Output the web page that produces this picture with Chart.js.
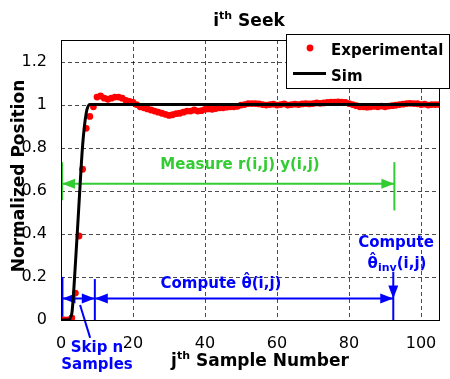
<!DOCTYPE html>
<html>
<head>
<meta charset="utf-8">
<script src="https://cdn.jsdelivr.net/npm/chart.js@4"></script>
<style>
html, body { margin: 0; padding: 0; background: #fff; }
canvas { display: block; }
</style>
</head>
<body>
<canvas id="chart" width="450" height="379"></canvas>
<script>
// values
// experimental position, one value per sample j = 0..105
const expY = [
    0, 0, 0, 0.01, 0.125, 0.39, 0.70, 0.89, 0.945, 0.99,
    1.035, 1.04, 1.03, 1.025, 1.03, 1.035, 1.035, 1.03, 1.02, 1.015,
    1.01, 1.0, 0.99, 0.985, 0.98, 0.975, 0.97, 0.965, 0.96, 0.955,
    0.95, 0.953, 0.958, 0.96, 0.965, 0.97, 0.97, 0.975, 0.97, 0.972,
    0.978, 0.98, 0.978, 0.982, 0.985, 0.985, 0.988, 0.99, 0.99, 0.992,
    0.998, 1.0, 1.005, 1.005, 1.005, 1.003, 1.0, 0.998, 1.0, 1.002,
    0.998, 1.0, 1.003, 0.998, 1.0, 1.002, 1.0, 1.003, 1.005, 1.003,
    1.005, 1.008, 1.006, 1.008, 1.01, 1.012, 1.012, 1.013, 1.012, 1.01,
    1.005, 1.0, 0.995, 0.99, 0.99, 0.988, 0.99, 0.992, 0.99, 0.993,
    0.99, 0.993, 0.995, 0.997, 1.0, 1.002, 1.005, 1.006, 1.005, 1.004,
    1.0, 1.002, 0.998, 1.0, 1.0, 1.0
];
// simulated response
const simX = [0, 1, 2, 3, 4, 5, 6, 7, 8, 9, 105];
const simY = [0, 0, 0, 0.03, 0.26, 0.54, 0.81, 0.96, 1, 1, 1];

const xTicks = [0, 20, 40, 60, 80, 100];
const xTickLabels = ['0', '20', '40', '60', '80', '100'];
const yTicks = [0, 0.2, 0.4, 0.6, 0.8, 1, 1.2];
const yTickLabels = ['0', '0.2', '0.4', '0.6', '0.8', '1', '1.2'];

const FONT = '"DejaVu Sans", sans-serif';
const BLUE = '#0000ff';
const GREEN = '#33cc33';

// draw text made of parts (normal / super / subscript), centred on cx
function drawParts(ctx, parts, cx, y, color) {
    ctx.save();
    ctx.fillStyle = color;
    ctx.textBaseline = 'alphabetic';
    ctx.textAlign = 'left';
    let total = 0;
    parts.forEach(p => {
        ctx.font = 'bold ' + p.size + 'px ' + FONT;
        p.w = ctx.measureText(p.t).width;
        total += p.w;
    });
    let x = cx - total / 2;
    parts.forEach(p => {
        ctx.font = 'bold ' + p.size + 'px ' + FONT;
        ctx.fillText(p.t, x, y + (p.dy || 0));
        x += p.w;
    });
    ctx.restore();
}

function head(ctx, tx, ty, dx, dy, len, half) {
    ctx.beginPath();
    ctx.moveTo(tx, ty);
    ctx.lineTo(tx - dx * len - dy * half, ty - dy * len + dx * half);
    ctx.lineTo(tx - dx * len + dy * half, ty - dy * len - dx * half);
    ctx.closePath();
    ctx.fill();
}

const annotate = {
    id: 'annotate',
    beforeDatasetsDraw(chart) {
        const {ctx, chartArea: a, scales: {x, y}} = chart;
        ctx.save();
        // dashed grid
        ctx.strokeStyle = 'rgba(0,0,0,0.7)';
        ctx.lineWidth = 1;
        ctx.setLineDash([4, 3]);
        xTicks.slice(1).forEach(v => {
            const px = Math.round(x.getPixelForValue(v)) + 0.5;
            ctx.beginPath(); ctx.moveTo(px, a.top); ctx.lineTo(px, a.bottom); ctx.stroke();
        });
        yTicks.slice(1).forEach(v => {
            const py = Math.round(y.getPixelForValue(v)) + 0.5;
            ctx.beginPath(); ctx.moveTo(a.left, py); ctx.lineTo(a.right, py); ctx.stroke();
        });
        ctx.setLineDash([]);

        const X = v => x.getPixelForValue(v);
        const Y = v => y.getPixelForValue(v);
        const seg = (x1, y1, x2, y2) => {
            ctx.beginPath(); ctx.moveTo(X(x1), Y(y1)); ctx.lineTo(X(x2), Y(y2)); ctx.stroke();
        };
        const dbl = (x1, x2, yv) => {
            seg(x1, yv, x2, yv);
            head(ctx, X(x1), Y(yv), -1, 0, 13, 5);
            head(ctx, X(x2), Y(yv), 1, 0, 13, 5);
        };

        // green measure window
        ctx.strokeStyle = GREEN; ctx.fillStyle = GREEN; ctx.lineWidth = 2;
        seg(0.3, 0.556, 0.3, 0.733);
        seg(92.6, 0.509, 92.6, 0.733);
        dbl(0.3, 92.6, 0.633);

        // blue compute windows
        ctx.strokeStyle = BLUE; ctx.fillStyle = BLUE;
        seg(0.4, 0, 0.4, 0.2);
        seg(9.4, 0, 9.4, 0.19);
        dbl(0.4, 9.4, 0.1);
        dbl(9.4, 92.3, 0.1);
        seg(92.3, 0, 92.3, 0.224);
        head(ctx, X(92.3), Y(0.1), 0, 1, 13, 5);
        seg(5.3, 0.07, 8.1, -0.083);
        ctx.restore();
    },
    afterDraw(chart) {
        const {ctx, chartArea: a} = chart;
        ctx.save();
        // axes box
        ctx.strokeStyle = '#000';
        ctx.lineWidth = 1;
        ctx.strokeRect(Math.round(a.left) + 0.5, Math.round(a.top) + 0.5,
            Math.round(a.right - a.left), Math.round(a.bottom - a.top));
        ctx.restore();

        drawParts(ctx, [{t: 'i', size: 17}, {t: 'th', size: 11, dy: -7}, {t: ' Seek', size: 17}], 249, 26, '#000');
        drawParts(ctx, [{t: 'j', size: 17}, {t: 'th', size: 11, dy: -7}, {t: ' Sample Number', size: 17}], 260, 366, '#000');
        ctx.save();
        ctx.translate(24, 176);
        ctx.rotate(-Math.PI / 2);
        drawParts(ctx, [{t: 'Normalized Position', size: 17}], 0, 0, '#000');
        ctx.restore();

        drawParts(ctx, [{t: 'Measure r(i,j) y(i,j)', size: 15}], 240, 169, GREEN);
        drawParts(ctx, [{t: 'Compute \u03b8\u0302(i,j)', size: 15}], 221, 288, BLUE);
        drawParts(ctx, [{t: 'Compute', size: 15}], 396, 247, BLUE);
        drawParts(ctx, [{t: '\u03b8\u0302', size: 15}, {t: 'inv', size: 11, dy: 3}, {t: '(i,j)', size: 15}], 397, 268, BLUE);
        drawParts(ctx, [{t: 'Skip n', size: 15}], 97, 352, BLUE);
        drawParts(ctx, [{t: 'Samples', size: 15}], 97, 369, BLUE);

        // legend
        ctx.save();
        ctx.fillStyle = '#fff';
        ctx.fillRect(286, 34, 164, 54);
        ctx.strokeStyle = '#000';
        ctx.lineWidth = 1;
        ctx.strokeRect(286.5, 34.5, 163, 54);
        ctx.fillStyle = '#ff0000';
        ctx.beginPath(); ctx.arc(310, 48, 3.4, 0, Math.PI * 2); ctx.fill();
        ctx.strokeStyle = '#000';
        ctx.lineWidth = 3;
        ctx.beginPath(); ctx.moveTo(293, 73.5); ctx.lineTo(326, 73.5); ctx.stroke();
        ctx.fillStyle = '#000';
        ctx.font = 'bold 15px ' + FONT;
        ctx.fillText('Experimental', 331, 55);
        ctx.fillText('Sim', 331, 81);
        ctx.restore();
    }
};

new Chart(document.getElementById('chart'), {
    type: 'scatter',
    data: {
        datasets: [
            {
                label: 'Sim',
                data: simX.map((v, i) => ({x: v, y: simY[i]})),
                showLine: true,
                borderColor: '#000',
                borderWidth: 3,
                pointRadius: 0,
                cubicInterpolationMode: 'monotone',
                order: 0
            },
            {
                label: 'Experimental',
                data: expY.map((v, j) => ({x: j, y: v})),
                showLine: false,
                backgroundColor: '#ff0000',
                borderWidth: 0,
                pointRadius: 3.4,
                order: 1
            }
        ]
    },
    options: {
        responsive: false,
        animation: false,
        devicePixelRatio: 1,
        layout: {padding: {top: 40, right: 11, left: 0, bottom: 0}},
        plugins: {legend: {display: false}, title: {display: false}, tooltip: {enabled: false}},
        scales: {
            x: {
                type: 'linear',
                min: 0, max: 105,
                afterBuildTicks: s => { s.ticks = xTicks.map(v => ({value: v})); },
                afterFit: s => { s.height = 59; },
                grid: {display: false},
                border: {display: false},
                ticks: {
                    padding: 6,
                    color: '#000',
                    font: {family: FONT, size: 16},
                    callback: (v, i) => xTickLabels[i]
                }
            },
            y: {
                type: 'linear',
                min: 0, max: 1.3,
                afterBuildTicks: s => { s.ticks = yTicks.map(v => ({value: v})); },
                afterFit: s => { s.width = 61; },
                grid: {display: false},
                border: {display: false},
                ticks: {
                    padding: 6,
                    color: '#000',
                    font: {family: FONT, size: 16},
                    callback: (v, i) => yTickLabels[i]
                }
            }
        }
    },
    plugins: [annotate]
});
</script>
</body>
</html>
